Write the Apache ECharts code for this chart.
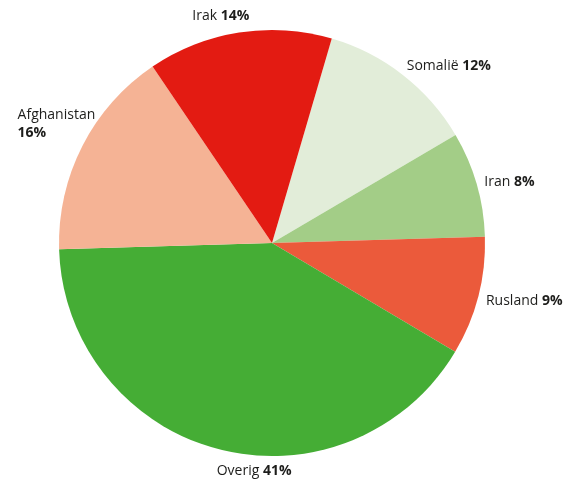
<!DOCTYPE html>
<html>
<head>
<meta charset="utf-8">
<script src="https://cdn.jsdelivr.net/npm/echarts@6/dist/echarts.min.js"></script>
<style>
  html, body { margin: 0; padding: 0; background: #fff; }
  #chart { width: 573px; height: 479px; }
</style>
</head>
<body>
<div id="chart"></div>
<script>
// herkomstlanden, met de klok mee vanaf Somalië
const countries = ['Somalië', 'Iran', 'Rusland', 'Overig', 'Afghanistan', 'Irak']
const shares = [12, 8, 9, 41, 16, 14]
const colors = ['#e2edd9', '#a3cd87', '#eb5a3b', '#45ad35', '#f5b395', '#e31b12']

// hoe elk label tegen zijn punt buiten de taart ligt
const labelAlign = ['left', 'left', 'left', 'left', 'right', 'center']
const labelVAlign = ['middle', 'middle', 'middle', 'top', 'bottom', 'bottom']
const labelDx = [-1, 0, 0, 0, 20, -17]
const labelDy = [-3, 0, 3, 5, 0, 0]
const wrapped = ['Afghanistan']

const chart = echarts.init(document.getElementById('chart'))

chart.setOption({
  animation: false,
  color: colors,
  series: [{
    type: 'pie',
    center: [272, 243],
    radius: 213,
    startAngle: 73.7,
    clockwise: true,
    avoidLabelOverlap: false,
    data: countries.map((name, i) => ({ name, value: shares[i] })),
    label: {
      position: 'outside',
      distanceToLabelLine: 0,
      fontFamily: 'Open Sans',
      fontSize: 14,
      color: '#1d1d1b',
      formatter: p => '{n|' + p.name + '}' + (wrapped.includes(p.name) ? '\n' : ' ') + '{v|' + p.value + '%}',
      rich: {
        n: { fontFamily: 'Open Sans', fontSize: 14, color: '#1d1d1b', align: 'left', lineHeight: 18 },
        v: { fontFamily: 'Open Sans', fontSize: 14, fontWeight: 'bold', color: '#1d1d1b', align: 'left', lineHeight: 18 }
      }
    },
    labelLine: { show: false, length: 8, length2: 0 },
    labelLayout: p => ({
      align: labelAlign[p.dataIndex],
      verticalAlign: labelVAlign[p.dataIndex],
      dx: labelDx[p.dataIndex],
      dy: labelDy[p.dataIndex]
    })
  }]
})
</script>
</body>
</html>
